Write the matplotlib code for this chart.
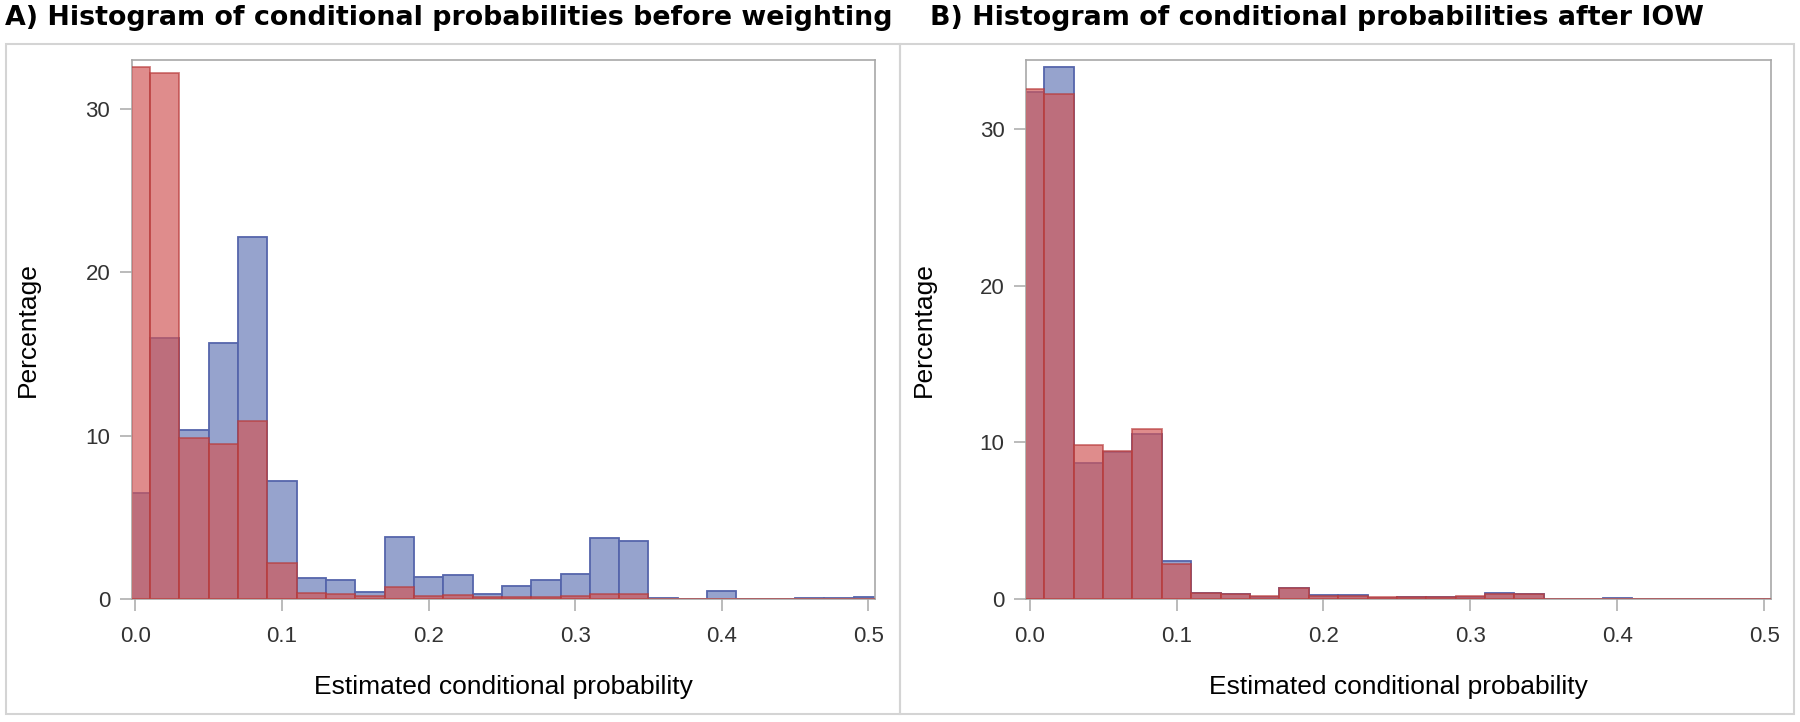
import numpy as np
import matplotlib
matplotlib.use("Agg")
import matplotlib.pyplot as plt
from matplotlib.patches import Rectangle

# bin midpoints (width 0.02)
bin_mid = [0.00, 0.02, 0.04, 0.06, 0.08, 0.10, 0.12, 0.14, 0.16, 0.18, 0.20, 0.22, 0.24,
           0.26, 0.28, 0.30, 0.32, 0.34, 0.36, 0.38, 0.40, 0.42, 0.44, 0.46, 0.48, 0.50]

# panel A - before weighting (percent)
blue_before = [6.46, 15.97, 10.36, 15.68, 22.14, 7.21, 1.28, 1.16, 0.44, 3.77, 1.33, 1.45, 0.31,
               0.82, 1.16, 1.52, 3.76, 3.55, 0.04, 0.02, 0.51, 0.03, 0.02, 0.06, 0.05, 0.14]
red_before = [32.6, 32.2, 9.87, 9.51, 10.89, 2.23, 0.36, 0.31, 0.19, 0.73, 0.19, 0.22, 0.12,
              0.12, 0.12, 0.17, 0.29, 0.29, 0.02, 0.02, 0.02, 0.02, 0.02, 0.02, 0.02, 0.02]

# panel B - after IOW (percent)
blue_after = [32.4, 34.0, 8.71, 9.40, 10.56, 2.42, 0.38, 0.30, 0.15, 0.73, 0.23, 0.23, 0.08,
              0.12, 0.12, 0.12, 0.36, 0.30, 0.02, 0.02, 0.05, 0.02, 0.02, 0.02, 0.02, 0.03]
red_after = [32.58, 32.25, 9.85, 9.47, 10.88, 2.22, 0.36, 0.31, 0.19, 0.73, 0.19, 0.22, 0.12,
             0.12, 0.12, 0.17, 0.29, 0.29, 0.02, 0.02, 0.02, 0.02, 0.02, 0.02, 0.02, 0.02]

titles = ["A) Histogram of conditional probabilities before weighting",
          "B) Histogram of conditional probabilities after IOW"]
xticks = [0.0, 0.1, 0.2, 0.3, 0.4, 0.5]
yticks = [0, 10, 20, 30]

plt.rcParams['font.family'] = ['Liberation Sans', 'DejaVu Sans']

fig = plt.figure(figsize=(18, 7.22), dpi=100)

W, H = 1800.0, 722.0
def box(x0, y0, x1, y1):
    # pixel coords from top-left
    return [x0 / W, 1 - y1 / H, (x1 - x0) / W, (y1 - y0) / H]

# panel borders
for x0, x1 in [(6, 900), (900, 1794)]:
    fig.patches.append(Rectangle((x0 / W, 1 - 714 / H), (x1 - x0) / W, (714 - 43.5) / H,
                                 transform=fig.transFigure, fill=False,
                                 edgecolor='#d4d4d4', linewidth=1.5))

axA = fig.add_axes(box(131.7, 60, 875, 599))
axB = fig.add_axes(box(1026, 60, 1770.7, 599))

panels = [(axA, blue_before, red_before, 33.0, 40),
          (axB, blue_after, red_after, 34.42, 936)]

for ax, blue, red, ytop, ylab_x in panels:
    ax.bar(bin_mid, blue, width=0.02, align='center', color='#96a3cd',
           edgecolor='#5565ab', linewidth=1.3, zorder=2)
    ax.bar(bin_mid, red, width=0.02, align='center', color='#d15656', alpha=0.68,
           edgecolor='#b83c3c', linewidth=1.3, zorder=3)
    ax.set_xlim(-0.0025, 0.5045)
    ax.set_ylim(0, ytop)
    ax.set_xticks(xticks)
    ax.set_xticklabels(['%.1f' % t for t in xticks])
    ax.set_yticks(yticks)
    for s in ax.spines.values():
        s.set_color('#a8a8a8')
        s.set_linewidth(1.2)
    ax.tick_params(direction='out', length=8.5, width=1.1, color='#a8a8a8',
                   labelsize=16, labelcolor='#333333', pad=7)
    ax.tick_params(axis='x', pad=11)
    ax.set_xlabel('Estimated conditional probability', fontsize=19, labelpad=20)
    ax.set_ylabel('Percentage', fontsize=19)
    pos = ax.get_position()
    ax.yaxis.set_label_coords((ylab_x - pos.x0 * W) / (pos.width * W), 0.5)

fig.text(5 / W, 1 - 18 / H, titles[0], fontsize=19.4, fontweight='bold',
         family='DejaVu Sans', va='center', ha='left')
fig.text(930 / W, 1 - 18 / H, titles[1], fontsize=19.4, fontweight='bold',
         family='DejaVu Sans', va='center', ha='left')

fig.savefig('out.png', dpi=100)
